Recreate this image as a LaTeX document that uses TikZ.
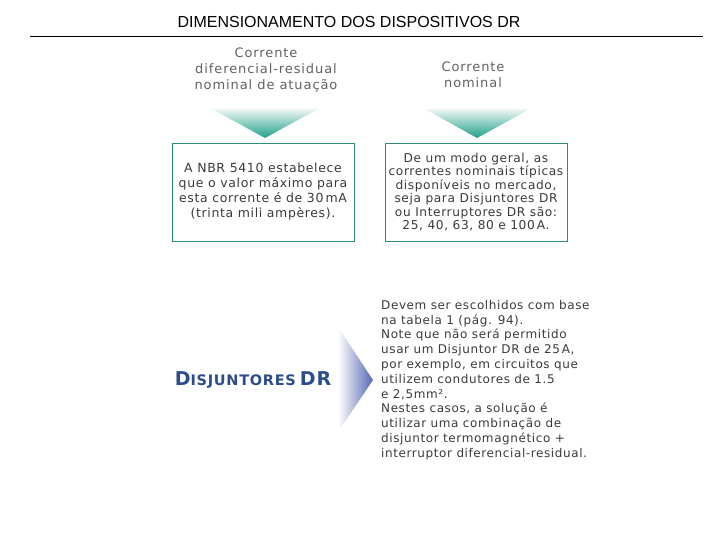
\documentclass[tikz,border=0pt]{standalone}
\usepackage{fontspec}
\setmainfont{DejaVu Sans}[LetterSpace=5]
\newfontfamily\titlefont{Liberation Sans}
\newfontfamily\headfont{DejaVu Sans}[LetterSpace=7]
\usetikzlibrary{calc}
\definecolor{tealbox}{HTML}{2E8C7A}
\definecolor{tealdark}{HTML}{1FA088}
\definecolor{tealpale}{HTML}{EEF7F4}
\definecolor{drblue}{HTML}{2C4C8C}
\definecolor{arrowblue}{HTML}{5468B4}
\definecolor{txtgrey}{HTML}{3A3A3A}
\tikzset{
	headtext/.style={align=center, text=black!62, inner sep=0pt, font=\headfont\fontsize{13}{16}\selectfont},
	infobox/.style={draw=tealbox, line width=0.9pt, minimum width=182pt, minimum height=98pt, align=center, text=txtgrey, inner sep=0pt},
	bodytext/.style={align=left, text=txtgrey, inner sep=0pt, font=\fontsize{12}{14.8}\selectfont}
}

\begin{document}
\begin{tikzpicture}[x=1pt, y=-1pt]
		%%%%% START %%%%%
		\useasboundingbox (0, 0) rectangle (720, 540);
		
		\node[inner sep=0pt, font=\titlefont\fontsize{16}{18}\selectfont] (titulo) at (349, 22) {DIMENSIONAMENTO DOS DISPOSITIVOS DR};
		\draw[line width=0.6pt] (30, 36) -- (703, 36);
		
		\node[headtext] (correnteres) at (266, 70) {Corrente\\diferencial-residual\\nominal de atuação};
		\node[headtext] (correntenom) at (473, 75) {Corrente\\nominal};
		
		\shade[top color=tealpale, bottom color=tealdark] (212, 109) -- (318, 109) -- (265, 138) -- cycle;
		\shade[top color=tealpale, bottom color=tealdark] (425, 109) -- (530, 109) -- (477, 138) -- cycle;
		
		\node[infobox, font=\fontsize{12.5}{15}\selectfont] (limite) at (263, 192) {A NBR 5410 estabelece\\que o valor máximo para\\esta corrente é de 30\,mA\\(trinta mili ampères).};
		\node[infobox, font=\fontsize{12.2}{13.4}\selectfont] (valores) at (476, 192) {De um modo geral, as\\correntes nominais típicas\\disponíveis no mercado,\\seja para Disjuntores DR\\ou Interruptores DR são:\\25, 40, 63, 80 e 100\,A.};
		
		\node[inner sep=0pt, text=drblue, font=\bfseries] (disjuntores) at (253, 380) {{\fontsize{19}{20}\selectfont D}{\fontsize{14.5}{20}\selectfont ISJUNTORES} {\fontsize{19}{20}\selectfont DR}};
		\shade[left color=white, right color=arrowblue] (338, 327) -- (373, 380) -- (338, 432) -- cycle;
		
		\node[bodytext, anchor=north west] (escolha) at (381, 300) {Devem ser escolhidos com base\\na tabela 1 (pág. 94).\\Note que não será permitido\\usar um Disjuntor DR de 25\,A,\\por exemplo, em circuitos que\\utilizem condutores de 1.5\\e 2,5mm².\\Nestes casos, a solução é\\utilizar uma combinação de\\disjuntor termomagnético +\\interruptor diferencial-residual.};
		
		%%%%% END %%%%%
	\end{tikzpicture}
\end{document}
